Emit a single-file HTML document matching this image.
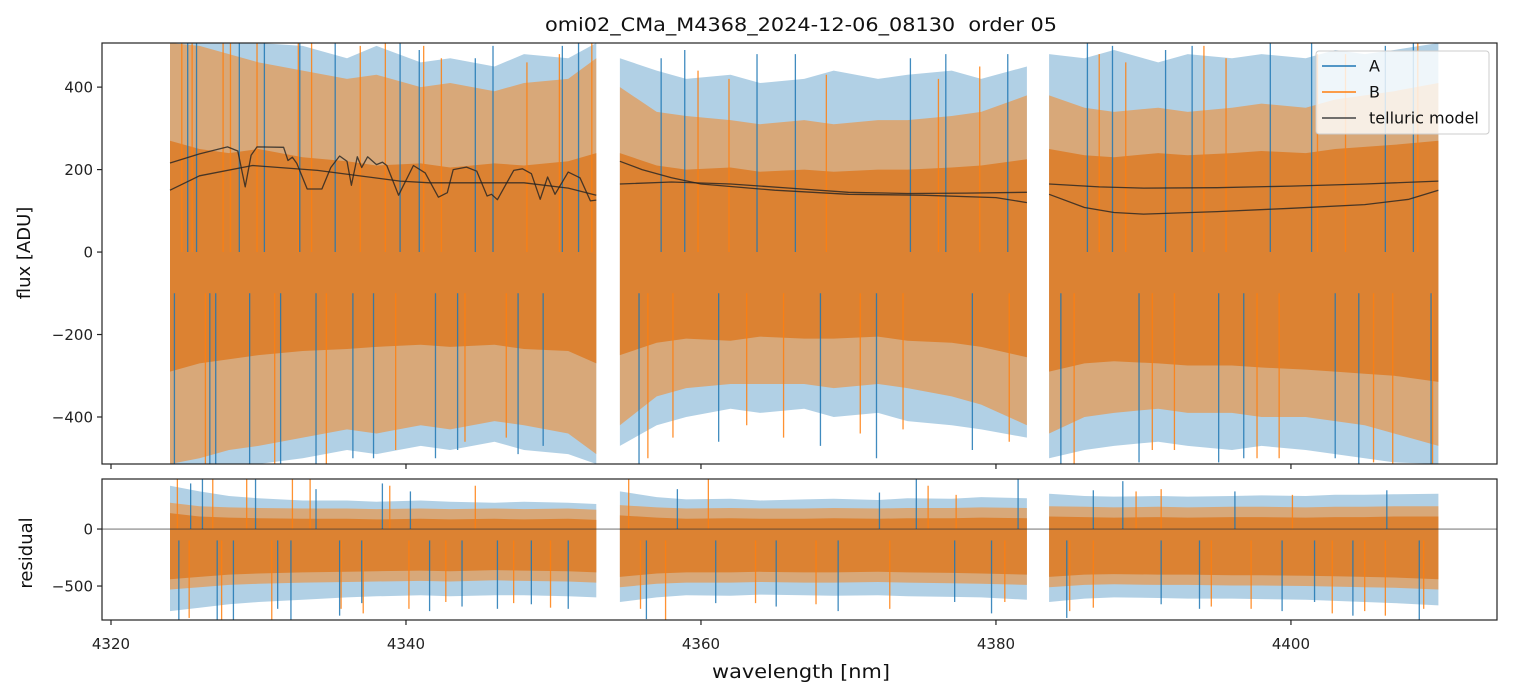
<!DOCTYPE html>
<html><head><meta charset="utf-8"><style>
body{margin:0;background:#fff;font-family:"DejaVu Sans","Liberation Sans",sans-serif}
svg text{font-family:"DejaVu Sans","Liberation Sans",sans-serif}
</style></head><body>
<svg id="c" width="1513" height="696" xmlns="http://www.w3.org/2000/svg"></svg>
<script>
// ---- data ----
const segWl=[[4324.0,4326,4328,4330,4333,4336,4338,4341,4343,4346,4348,4351,4352.9],[4354.5,4357,4359,4362,4364,4367,4369,4372,4374,4377,4379,4382.1],[4383.6,4386,4388,4391,4393,4396,4398,4401,4403,4405,4407,4410.0]];
// flux envelopes (ADU): A outer, B outer, B dense core
const aHi=[[520,520,520,520,500,470,500,460,470,450,480,470,520],[470,440,420,430,410,420,440,420,430,440,420,450],[480,470,490,460,480,470,480,470,490,480,490,510]];
const aLo=[[-520,-520,-520,-520,-500,-480,-490,-470,-480,-460,-480,-490,-520],[-470,-420,-400,-380,-390,-380,-400,-390,-410,-420,-430,-450],[-500,-480,-470,-460,-470,-480,-470,-480,-490,-500,-510,-520]];
const bHi=[[520,500,480,460,440,420,430,400,410,390,410,420,470],[400,340,330,320,310,320,310,320,320,330,340,380],[380,350,340,350,340,350,360,350,370,380,390,410]];
const bLo=[[-520,-500,-480,-470,-450,-430,-440,-420,-430,-410,-420,-440,-490],[-420,-350,-330,-320,-320,-320,-330,-320,-330,-350,-370,-420],[-440,-400,-390,-380,-390,-390,-400,-400,-410,-420,-440,-470]];
const cHi=[[270,250,240,250,230,220,210,215,205,215,210,220,240],[240,210,200,205,195,200,195,200,200,205,210,225],[250,235,230,240,235,240,245,240,250,255,260,270]];
const cLo=[[-290,-270,-260,-250,-240,-235,-230,-225,-230,-225,-235,-240,-270],[-250,-220,-210,-215,-205,-210,-210,-205,-215,-220,-230,-255],[-290,-270,-265,-270,-275,-275,-280,-285,-290,-295,-300,-315]];
// residual envelopes
const rAHi=[[380,330,290,270,250,250,240,250,240,230,240,230,220],[330,280,260,265,250,260,265,255,270,265,280,270],[310,290,285,290,285,290,295,290,300,300,305,310]];
const rALo=[[-720,-690,-660,-640,-620,-600,-590,-580,-590,-580,-580,-590,-600],[-640,-600,-580,-585,-575,-580,-585,-580,-590,-595,-600,-620],[-640,-610,-600,-605,-610,-610,-615,-620,-630,-640,-650,-670]];
const rCHi=[[140,110,100,95,90,90,85,90,85,90,85,90,80],[120,100,90,95,90,90,95,90,95,95,100,95],[110,105,100,105,100,105,105,100,105,105,110,110]];
const rCLo=[[-440,-420,-400,-390,-380,-375,-370,-365,-370,-360,-365,-370,-380],[-420,-390,-380,-380,-375,-380,-380,-375,-380,-385,-390,-400],[-420,-400,-395,-400,-400,-405,-405,-410,-415,-420,-425,-440]];
// telluric models
const tel1Wl=[4324,4326,4327.9,4328.6,4329.1,4329.5,4329.9,4331.7,4332.0,4332.3,4332.6,4333.3,4334.3,4334.9,4335.5,4336.0,4336.3,4336.7,4337.0,4337.4,4338.0,4338.4,4338.7,4339.5,4340.5,4341.3,4342.2,4342.8,4343.2,4344.1,4344.8,4345.5,4345.8,4346.2,4347.3,4347.9,4348.5,4349.1,4349.6,4350.1,4351.0,4351.8,4352.5,4352.9];
const tel1V=[216,238,255,245,158,235,255,254,222,230,215,153,153,205,233,220,162,231,205,231,212,218,210,138,210,192,133,144,200,206,196,136,140,127,198,202,190,128,182,140,194,180,124,126];
const tel2Wl=[4324,4326,4329.6,4334,4339.6,4341.6,4348,4351,4352.9];
const tel2V=[150,185,210,198,172,168,168,155,138];
const tel3Wl=[4354.5,4356,4358,4360,4365,4370,4375,4380,4382.1];
const tel3V=[220,200,180,165,150,140,138,132,120];
const tel4Wl=[4354.5,4358,4362,4366,4370,4374,4378,4382.1];
const tel4V=[165,170,165,155,145,142,143,145];
const tel5Wl=[4383.6,4387,4390,4395,4400,4405,4410];
const tel5V=[165,158,155,156,160,165,172];
const tel6Wl=[4383.6,4386,4388,4390,4395,4400,4405,4408,4410];
const tel6V=[140,108,96,92,98,106,115,128,150];
// spikes (wavelength, value)
const spAWl=[4324.3,4325.2,4325.8,4326.7,4327.1,4328.7,4329.4,4330.4,4331.5,4332.8,4333.9,4335.2,4336.4,4337.8,4339.6,4340.9,4342.0,4343.5,4344.7,4345.9,4347.6,4349.3,4350.6,4351.7,4355.8,4357.3,4358.9,4361.2,4363.8,4366.4,4368.1,4371.9,4374.2,4376.6,4378.4,4380.8,4384.4,4386.2,4387.9,4389.7,4391.5,4393.3,4395.1,4396.8,4398.6,4401.4,4403.0,4404.6,4406.4,4408.3,4409.5];
const spAV=[-520,520,520,-520,-520,520,-520,520,-520,520,-520,510,-500,-500,520,490,-500,-480,470,500,-490,-470,500,520,-520,470,490,-460,480,480,-470,-500,470,480,-480,480,-520,520,500,-510,490,500,-510,-500,510,520,-500,-520,500,520,-520];
const spBWl=[4324.8,4325.5,4326.4,4327.6,4328.1,4329.9,4331.1,4332.7,4333.6,4334.6,4336.9,4338.6,4339.3,4341.2,4342.4,4344.0,4346.8,4348.2,4350.4,4352.6,4356.4,4358.1,4359.8,4361.9,4363.1,4365.6,4368.5,4370.8,4373.7,4376.1,4378.9,4380.9,4385.3,4387.0,4388.8,4390.6,4392.1,4394.1,4395.6,4397.7,4399.2,4401.8,4403.7,4405.6,4406.9,4408.6,4409.6];
const spBV=[520,520,-520,520,520,520,-520,520,520,-520,500,520,-480,500,470,-460,-450,460,480,520,-500,-450,440,420,-420,-450,430,-440,-430,420,450,-460,-520,480,460,-480,-480,500,470,-500,-500,480,480,-510,-520,510,-520];
const rsAWl=[4324.6,4325.4,4326.2,4327.2,4328.3,4329.8,4331.3,4332.2,4333.9,4335.5,4337.0,4338.4,4340.3,4341.6,4343.8,4346.2,4348.5,4351.0,4356.3,4358.4,4361.0,4365.1,4369.3,4372.1,4374.6,4377.2,4379.7,4381.5,4384.8,4386.6,4388.6,4391.2,4393.8,4396.2,4399.4,4401.6,4404.2,4406.5,4408.7];
const rsAV=[-800,400,440,-800,-800,440,-700,-800,350,-760,-650,400,330,-720,-680,-700,-660,-700,-790,350,-650,-680,-720,320,440,-640,-740,440,-780,340,420,-660,-700,330,-720,-640,-760,340,-800];
const rsBWl=[4324.5,4325.3,4326.9,4327.5,4329.2,4330.9,4332.3,4333.5,4335.6,4337.1,4338.9,4340.2,4342.7,4344.7,4347.3,4349.8,4355.1,4355.9,4357.6,4360.5,4363.7,4367.8,4372.8,4375.4,4377.3,4380.6,4385.0,4386.6,4389.5,4391.2,4394.6,4397.3,4400.1,4402.8,4405.0,4406.4,4409.0];
const rsBV=[440,-780,440,-800,440,-800,440,440,-700,-740,380,-700,-640,380,-650,-690,440,-700,-800,440,-650,-660,-700,380,300,-640,-720,-690,330,350,-680,-700,300,-740,-720,-760,-700];
const xTicks=[4320,4340,4360,4380,4400];
const yTicksTop=[400,200,0,-200,-400];
const yTicksRes=[0,-500];

// ---- axes ----
const X0=102,X1=1497,wl0=4319.39,wl1=4413.97;
const x=w=>X0+(w-wl0)/(wl1-wl0)*(X1-X0);
const T={t:43,b:464,lo:-514,hi:507}, R={t:479,b:620,lo:-798,hi:439};
const y=(ax,v)=>{v=Math.max(ax.lo,Math.min(ax.hi,v));return ax.b-(v-ax.lo)/(ax.hi-ax.lo)*(ax.b-ax.t);};
const svg=document.getElementById('c');const NS='http://www.w3.org/2000/svg';
function el(tag,at,parent){const e=document.createElementNS(NS,tag);for(const k in at)e.setAttribute(k,at[k]);(parent||svg).appendChild(e);return e;}
function clip(id,ax){const c=el('clipPath',{id:id});el('rect',{x:X0,y:ax.t,width:X1-X0,height:ax.b-ax.t},c);}
clip('ct',T);clip('cr',R);
const gT=el('g',{'clip-path':'url(#ct)'});


const gR=el('g',{'clip-path':'url(#cr)'});



function band(g,ax,W,hi,lo,f,o,n){
  let pts=W.map((w,i)=>x(w).toFixed(1)+','+y(ax,hi[i]).toFixed(1));
  pts=pts.concat(W.map((w,i)=>x(w).toFixed(1)+','+y(ax,lo[i]).toFixed(1)).reverse());
  const p=el('polygon',{points:pts.join(' '),fill:f,'fill-opacity':o},g);
  
  
}
for(let s=0;s<3;s++){
  const W=segWl[s];
  band(gT,T,W,aHi[s],aLo[s],'#1f77b4',0.35,'series-a-envelope');
  band(gT,T,W,bHi[s],bLo[s],'#ff7f0e',0.5,'series-b-envelope');
  band(gT,T,W,cHi[s],cLo[s],'#dc8232',1,'series-b-core');
  band(gR,R,W,rAHi[s],rALo[s],'#1f77b4',0.35,'residual-a-envelope');
  band(gR,R,W,rCHi[s].map(v=>v+90),rCLo[s].map(v=>v-90),'#ff7f0e',0.5,'residual-b-envelope');
  band(gR,R,W,rCHi[s],rCLo[s],'#dc8232',1,'residual-b-core');
}
function spk(g,ax,wls,vs,stroke,name){wls.forEach((w,i)=>{
  const s=el('line',{x1:x(w),x2:x(w),y1:y(ax,vs[i]>0?0:-100),y2:y(ax,vs[i]),stroke:stroke,'stroke-width':1.3,'stroke-opacity':0.85},g);
  
  
});}
spk(gT,T,spAWl,spAV,'#1f77b4','spike-a');
spk(gT,T,spBWl,spBV,'#ff7f0e','spike-b');
spk(gR,R,rsAWl,rsAV,'#1f77b4','residual-spike-a');
spk(gR,R,rsBWl,rsBV,'#ff7f0e','residual-spike-b');
function tl(wls,vs,name){
  const p=el('polyline',{points:wls.map((w,i)=>x(w).toFixed(1)+','+y(T,vs[i]).toFixed(1)).join(' '),fill:'none',stroke:'#222','stroke-width':1.3,'stroke-opacity':0.8,'stroke-linejoin':'round'},gT);
  
  
}
tl(tel1Wl,tel1V,'telluric-model-a-seg1');tl(tel2Wl,tel2V,'telluric-model-b-seg1');
tl(tel3Wl,tel3V,'telluric-model-a-seg2');tl(tel4Wl,tel4V,'telluric-model-b-seg2');
tl(tel5Wl,tel5V,'telluric-model-a-seg3');tl(tel6Wl,tel6V,'telluric-model-b-seg3');
const zl=el('line',{x1:X0,x2:X1,y1:y(R,0),y2:y(R,0),stroke:'#333','stroke-width':0.8,'stroke-opacity':0.8});



// frames & ticks
const fT=el('rect',{x:X0,y:T.t,width:X1-X0,height:T.b-T.t,fill:'none',stroke:'#222','stroke-width':1.2});


const fR=el('rect',{x:X0,y:R.t,width:X1-X0,height:R.b-R.t,fill:'none',stroke:'#222','stroke-width':1.2});


function txt(s,at,name){const t=el('text',at);t.textContent=s;return t;}
xTicks.forEach(v=>{
  el('line',{x1:x(v),x2:x(v),y1:T.b,y2:T.b+5,stroke:'#222','stroke-width':1.2});
  el('line',{x1:x(v),x2:x(v),y1:R.b,y2:R.b+5,stroke:'#222','stroke-width':1.2});
  txt(String(v),{x:x(v),y:R.b+29,'font-size':15,'text-anchor':'middle',fill:'#222'},'x-tick-label');
});
yTicksTop.forEach(v=>{el('line',{x1:X0-5,x2:X0,y1:y(T,v),y2:y(T,v),stroke:'#222','stroke-width':1.2});txt(String(v).replace('-','\u2212'),{x:X0-9,y:y(T,v)+5.5,'font-size':15,'text-anchor':'end',fill:'#222'},'flux-y-tick-label');});
yTicksRes.forEach(v=>{el('line',{x1:X0-5,x2:X0,y1:y(R,v),y2:y(R,v),stroke:'#222','stroke-width':1.2});txt(String(v).replace('-','\u2212'),{x:X0-9,y:y(R,v)+5.5,'font-size':15,'text-anchor':'end',fill:'#222'},'residual-y-tick-label');});
txt('omi02_CMa_M4368_2024-12-06_08130\u00a0 order 05',{x:801,y:31,'font-size':19,'text-anchor':'middle',fill:'#111',textLength:512,lengthAdjust:'spacingAndGlyphs'},'chart-title');
txt('flux [ADU]',{x:30,y:253,'font-size':18,'text-anchor':'middle',fill:'#111',transform:'rotate(-90 30 253)'},'flux-y-axis-title');
txt('residual',{x:32,y:553,'font-size':18,'text-anchor':'middle',fill:'#111',transform:'rotate(-90 32 553)'},'residual-y-axis-title');
txt('wavelength [nm]',{x:801,y:678,'font-size':19,'text-anchor':'middle',fill:'#111',textLength:178,lengthAdjust:'spacingAndGlyphs'},'x-axis-title');
// legend
const lg=el('g',{});


el('rect',{x:1316,y:51,width:173,height:83,rx:3,fill:'#fff','fill-opacity':0.8,stroke:'#ccc'},lg);
[['A','#1f77b4',66],['B','#ff7f0e',92],['telluric model','#444',118]].forEach(([n,c,yy])=>{
  el('line',{x1:1322,x2:1356,y1:yy,y2:yy,stroke:c,'stroke-width':1.6},lg);
  const t=el('text',{x:1369,y:yy+5.5,'font-size':16,fill:'#111'},lg);
  t.textContent=n;
  
  
});
</script>
</body></html>
